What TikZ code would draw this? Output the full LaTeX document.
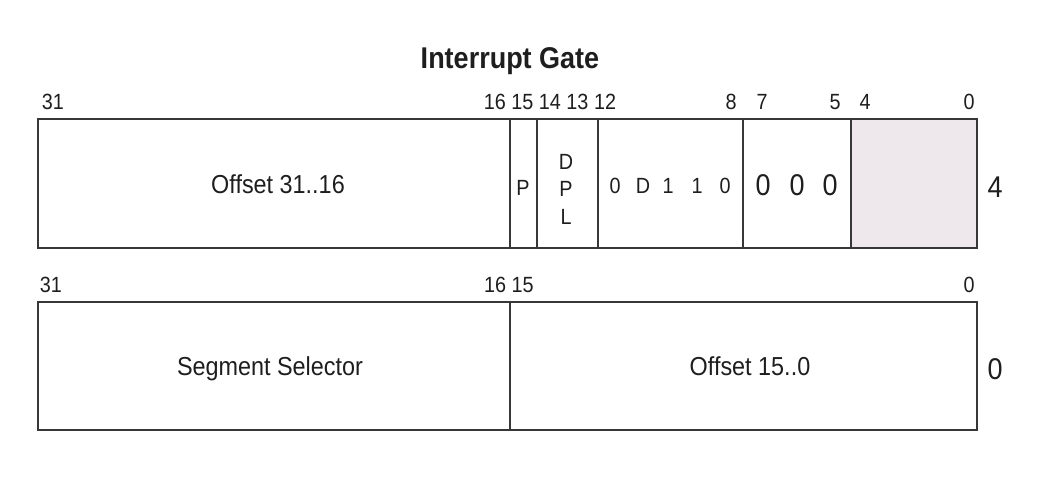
\documentclass[tikz,border=0pt]{standalone}
\usepackage{fontspec}
\setmainfont{Liberation Sans}[FakeStretch=0.9]
\definecolor{ln}{RGB}{55,55,55}
\definecolor{shadefill}{RGB}{238,232,236}
\definecolor{txt}{RGB}{30,30,30}
\begin{document}
\begin{tikzpicture}[x=1pt,y=-1pt,
  cell/.style={draw=ln,line width=1.6pt},
  lbl/.style={anchor=base,inner sep=0pt,outer sep=0pt,text=txt},
  bitn/.style={lbl,font=\fontsize{22}{24}\selectfont},
  field/.style={lbl,font=\fontsize{26}{28}\selectfont},
  small/.style={lbl,font=\fontsize{22}{24}\selectfont},
  big/.style={lbl,font=\fontsize{30}{32}\selectfont},
  title/.style={lbl,font=\fontsize{30}{32}\selectfont\bfseries}]
\useasboundingbox (0,0) rectangle (1055,487);
% title
\node[title] (ttl) at (510,69) {Interrupt Gate};
% top row (offset 4)
\fill[shadefill] (851,119) rectangle (977,248);
\draw[cell] (38,119) rectangle (977,248);
\draw[cell] (510,119) -- (510,248);
\draw[cell] (537,119) -- (537,248);
\draw[cell] (598,119) -- (598,248);
\draw[cell] (743,119) -- (743,248);
\draw[cell] (851,119) -- (851,248);
% top bit numbers
\node[bitn] (t31) at (53,109) {31};
\node[bitn] (t16) at (550,109) {16 15 14 13 12};
\node[bitn] (t8) at (731,109) {8};
\node[bitn] (t7) at (762,109) {7};
\node[bitn] (t5) at (835,109) {5};
\node[bitn] (t4) at (865,109) {4};
\node[bitn] (t0) at (969,109) {0};
% top fields
\node[field] (off31) at (278,193) {Offset 31..16};
\node[small] (pbit) at (523,195) {P};
\node[small] (dplD) at (566,169) {D};
\node[small] (dplP) at (566,196) {P};
\node[small] (dplL) at (566,224) {L};
\node[small] (b12) at (615,193) {0};
\node[small] (b11) at (643,193) {D};
\node[small] (b10) at (668,193) {1};
\node[small] (b9) at (697,193) {1};
\node[small] (b8) at (725,193) {0};
\node[big] (b7) at (763,195) {0};
\node[big] (b6) at (797,195) {0};
\node[big] (b5) at (830,195) {0};
\node[big] (r4) at (995,197) {4};
% bottom row (offset 0)
\draw[cell] (38,302) rectangle (977,430);
\draw[cell] (510,302) -- (510,430);
\node[bitn] (b31) at (51,292) {31};
\node[bitn] (b1615) at (509,292) {16 15};
\node[bitn] (b0) at (969,292) {0};
\node[field] (segsel) at (270,375) {Segment Selector};
\node[field] (off15) at (750,375) {Offset 15..0};
\node[big] (r0) at (995,379) {0};
\end{tikzpicture}
\end{document}
